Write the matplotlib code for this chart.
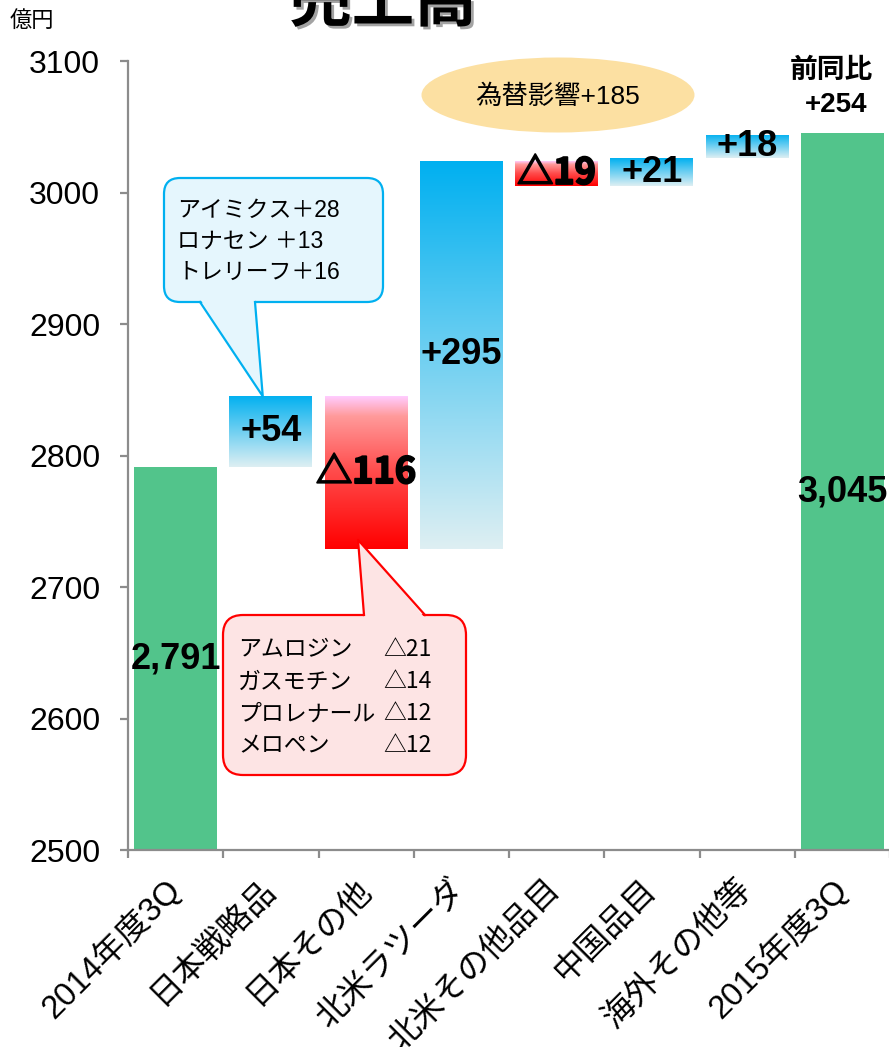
import matplotlib
matplotlib.use("Agg")
import matplotlib.pyplot as plt
import matplotlib.patches as mpatches
import matplotlib.transforms as mtransforms
import matplotlib.patheffects as pe
from matplotlib.colors import LinearSegmentedColormap
import numpy as np

plt.rcParams['font.family'] = ['Liberation Sans', 'Noto Sans CJK JP']

# ---------------- data ----------------
categories = ['2014年度3Q', '日本戦略品', '日本その他', '北米ラツーダ',
              '北米その他品目', '中国品目', '海外その他等', '2015年度3Q']
start_total = 2791
changes = [54, -116, 295, -19, 21, 18]
end_total = 3045
fx_effect = 185
y_ticks = [2500, 2600, 2700, 2800, 2900, 3000, 3100]
jp_strategic_names = ['アイミクス', 'ロナセン ', 'トレリーフ']
jp_strategic_vals = [28, 13, 16]
jp_other_names = ['アムロジン', 'ガスモチン', 'プロレナール', 'メロペン']
jp_other_vals = [21, 14, 12, 12]

# ---------------- figure ----------------
W, H = 889, 1047
fig = plt.figure(figsize=(W / 100, H / 100), dpi=100)
ax = fig.add_axes([128 / W, 1 - 850 / H, 762 / W, 789 / H])
pxT = mtransforms.Affine2D().scale(1 / W, -1 / H).translate(0, 1) + fig.transFigure

green = '#52C48B'
blue_cmap = LinearSegmentedColormap.from_list('b', ['#00B0F0', '#DEEFF3'])
red_cmap = LinearSegmentedColormap.from_list(
    'r', [(0, '#FFCCFF'), (0.13, '#FF9A9A'), (0.5, '#FF4A4A'), (1, '#FF0000')])

ymin, ymax = y_ticks[0], y_ticks[-1]
bw = 0.87
x = np.arange(len(categories))

# totals
ax.bar([x[0], x[-1]], [start_total, end_total], width=bw, color=green, zorder=2)

# changes (waterfall)
bottoms, heights = [], []
run = start_total
for c in changes:
    if c >= 0:
        bottoms.append(run); heights.append(c)
    else:
        bottoms.append(run + c); heights.append(-c)
    run += c
bars = ax.bar(x[1:-1], heights, bottom=bottoms, width=bw,
              facecolor='none', edgecolor='none', zorder=2)
grad = np.linspace(0, 1, 256).reshape(-1, 1)
for rect, c in zip(bars, changes):
    x0, y0 = rect.get_x(), rect.get_y()
    w, h = rect.get_width(), rect.get_height()
    im = ax.imshow(grad, cmap=blue_cmap if c >= 0 else red_cmap, aspect='auto',
                   origin='upper', extent=(x0, x0 + w, y0, y0 + h), zorder=2,
                   interpolation='bilinear')
    im.set_clip_path(rect)

# value labels
lab_kw = dict(ha='center', va='center', fontsize=26, fontweight='bold',
              color='black', zorder=5)
ax.text(x[0], (ymin + start_total) / 2, f'{start_total:,}', **lab_kw)
ax.text(x[-1], (ymin + end_total) / 2, f'{end_total:,}', **lab_kw)
for xi, b, h, c in zip(x[1:-1], bottoms, heights, changes):
    if c >= 0:
        ax.text(xi, b + h / 2, f'+{c}', **lab_kw)
    else:
        ax.text(xi, b + h / 2, f'△{-c}', family=['Noto Sans CJK JP'],
                path_effects=[pe.withStroke(linewidth=1.4, foreground='black')],
                **lab_kw)

# axes styling
ax.set_xlim(-0.5, len(categories) - 0.5)
ax.set_ylim(ymin, ymax)
ax.set_yticks(y_ticks)
ax.set_xticks(x)
ax.set_xticks(np.arange(len(categories) + 1) - 0.5, minor=True)
for s in ['top', 'right']:
    ax.spines[s].set_visible(False)
for s in ['left', 'bottom']:
    ax.spines[s].set_color('#8C8C8C')
    ax.spines[s].set_linewidth(1.6)
ax.tick_params(axis='y', direction='out', length=6, width=1.6, color='#8C8C8C',
               labelsize=23, pad=14)
ax.tick_params(axis='x', which='major', length=0, labelsize=23.5, pad=25)
ax.tick_params(axis='x', which='minor', direction='out', length=6, width=1.6,
               color='#8C8C8C')
ax.set_xticklabels(categories, rotation=45, ha='right', va='center',
                   rotation_mode='anchor')

# unit and title
fig.text(10, 21, '億円', transform=pxT, fontsize=16, ha='left', va='center')
fig.text(383, 21, '売上高', transform=pxT, fontsize=45, fontweight='bold',
         family='Noto Sans CJK JP', ha='center', va='baseline',
         path_effects=[pe.withSimplePatchShadow(offset=(2, -2),
                                                shadow_rgbFace='#666666', alpha=0.6)])

# FX effect ellipse
ax.add_patch(mpatches.Ellipse((558, 95), 273, 75, transform=pxT,
                              facecolor='#FCE0A2', edgecolor='none',
                              clip_on=False, zorder=3))
fig.text(558, 97, f'為替影響+{fx_effect}', transform=pxT, fontsize=19,
         ha='center', va='center')

# year-on-year
fig.text(831, 71, '前同比', transform=pxT, fontsize=20, fontweight='bold',
         ha='center', va='center')
fig.text(836, 105, f'+{end_total - start_total}', transform=pxT, fontsize=20,
         fontweight='bold', ha='center', va='center')


def data_to_px(xd, yd):
    d = ax.transData.transform((xd, yd))
    return d[0], H - d[1]


def callout(box, base_x, base_y, tip, fc, ec, r):
    x0, y0, x1, y1 = box
    ax.add_patch(mpatches.FancyBboxPatch(
        (x0, y0), x1 - x0, y1 - y0, boxstyle=f'round,pad=0,rounding_size={r}',
        transform=pxT, facecolor=fc, edgecolor=ec, linewidth=1.6,
        clip_on=False, zorder=6))
    sgn = 1 if base_y < tip[1] else -1
    poly = [(base_x[0], base_y - 3 * sgn), tip, (base_x[1], base_y - 3 * sgn)]
    ax.add_patch(mpatches.Polygon(poly, closed=True, transform=pxT,
                                  facecolor=fc, edgecolor='none',
                                  clip_on=False, zorder=7))
    ax.add_line(plt.Line2D([base_x[0], tip[0], base_x[1]],
                           [base_y, tip[1], base_y], transform=pxT,
                           color=ec, linewidth=1.6, clip_on=False, zorder=8))


# blue callout (Japan strategic products)
tip_b = data_to_px(x[1] - 0.085, bottoms[0] + heights[0])
callout((164, 178, 383, 302), (200, 255), 302, tip_b, '#E5F6FD', '#00B0F0', 16)
for i, (n, v) in enumerate(zip(jp_strategic_names, jp_strategic_vals)):
    fig.text(177, 210 + 31 * i, f'{n}＋{v}', transform=pxT, fontsize=16.5,
             ha='left', va='center', zorder=9)

# red callout (Japan others)
tx, ty = data_to_px(x[2] - 0.085, bottoms[1])
tip_r = (tx, ty - 9)
callout((223, 615, 466, 775), (364, 425), 615, tip_r, '#FDE4E4', '#FF0000', 20)
for i, (n, v) in enumerate(zip(jp_other_names, jp_other_vals)):
    fig.text(238, 650 + 32 * i, n, transform=pxT, fontsize=16.5,
             ha='left', va='center', zorder=9)
    fig.text(383, 650 + 32 * i, f'△{v}', transform=pxT, fontsize=16.5,
             family=['Noto Sans CJK JP'], ha='left', va='center', zorder=9)

fig.savefig('out.png', dpi=100)
